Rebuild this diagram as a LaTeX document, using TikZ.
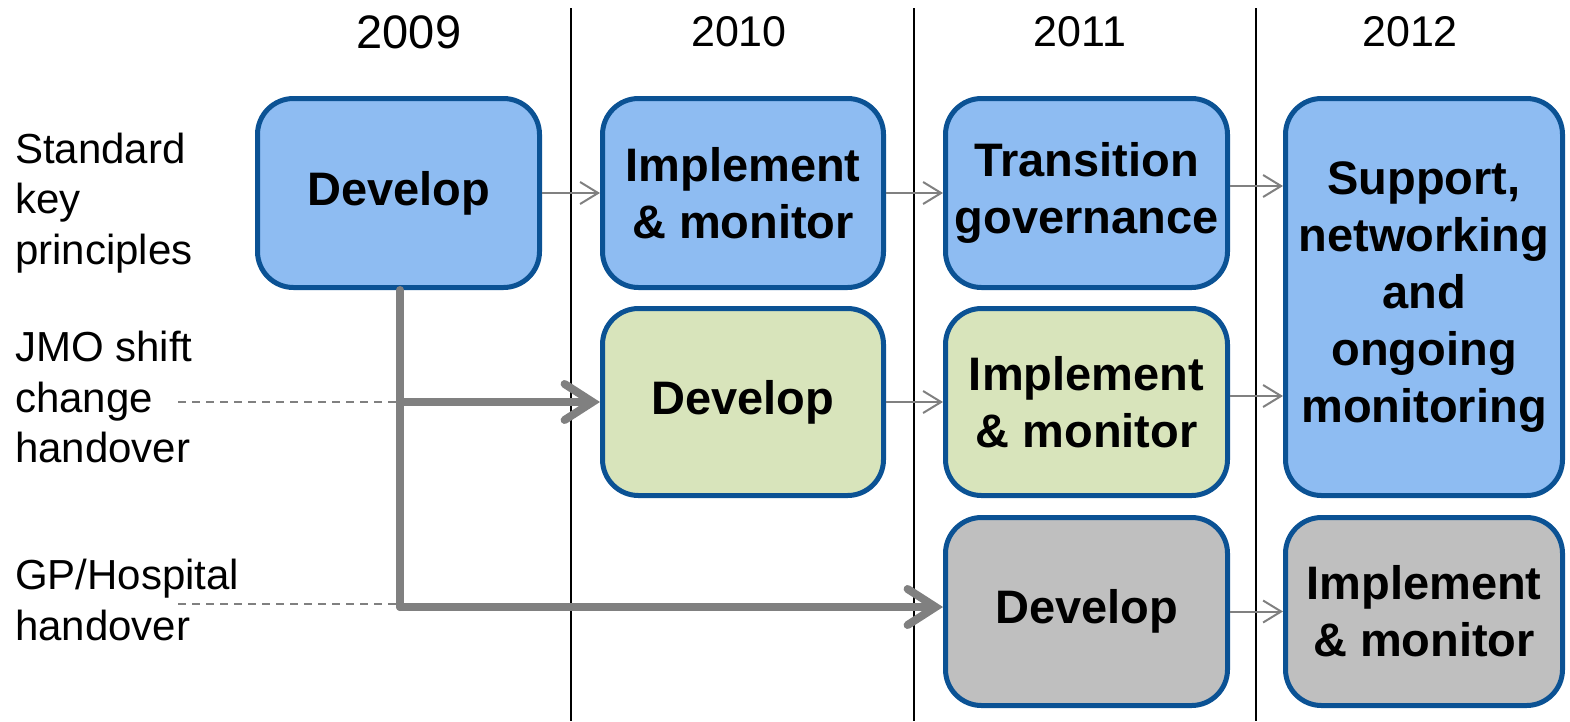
\documentclass[tikz,border=0pt]{standalone}
\usepackage{fontspec}
\setmainfont{Liberation Sans}
\usetikzlibrary{arrows.meta}
\definecolor{bfill}{HTML}{8EBCF2}
\definecolor{gfill}{HTML}{D8E4BB}
\definecolor{yfill}{HTML}{BFBFBF}
\definecolor{bdraw}{HTML}{0B5294}
\definecolor{conn}{HTML}{808080}
\tikzset{
  box/.style={draw=bdraw, line width=5pt, rounded corners=36pt, align=center, inner sep=0pt,
    font=\fontsize{47}{57}\selectfont\bfseries},
  lbl/.style={anchor=west, align=left, inner sep=0pt, font=\fontsize{42}{50.5}\selectfont},
  yr/.style={inner sep=0pt, font=\fontsize{43}{50}\selectfont},
  thinarr/.style={draw=conn, line width=2pt, -{Straight Barb[length=18pt,width=22pt]}},
  thickln/.style={draw=conn, line width=8pt, line cap=round, line join=round},
  thickarr/.style={thickln, -{Straight Barb[length=28pt,width=36pt,line cap=round]}},
  dashln/.style={draw=conn, line width=1.5pt, dash pattern=on 8pt off 6pt},
  sepln/.style={draw=black, line width=1.5pt}
}
\begin{document}
\begin{tikzpicture}[x=1pt,y=-1pt]
\useasboundingbox (0,0) rectangle (1570,721);
% separators
\coordinate (s1t) at (571,8); \coordinate (s1b) at (571,721);
\coordinate (s2t) at (914,8); \coordinate (s2b) at (914,721);
\coordinate (s3t) at (1256,8); \coordinate (s3b) at (1256,721);
\draw[sepln] (s1t) -- (s1b);
\draw[sepln] (s2t) -- (s2b);
\draw[sepln] (s3t) -- (s3b);
% years
\node[yr, font=\fontsize{47}{50}\selectfont] (y1) at (409,32) {2009};
\node[yr] (y2) at (739,32) {2010};
\node[yr] (y3) at (1080,32) {2011};
\node[yr] (y4) at (1410,32) {2012};
% labels
\node[lbl] (l1) at (15,203) {Standard\\key\\principles};
\node[lbl] (l2) at (15,397) {JMO shift\\change\\handover};
\node[lbl] (l3) at (15,600) {GP/Hospital\\handover};
% boxes
\node[box, fill=bfill, minimum width=282pt, minimum height=189pt] (A) at (398.5,193) {Develop};
\node[box, fill=bfill, minimum width=281pt, minimum height=189pt] (B) at (743,193) {Implement\\\& monitor};
\node[box, fill=bfill, minimum width=282pt, minimum height=189pt] (C) at (1086.5,193) {Transition\\governance};
\node[box, fill=bfill, minimum width=277pt, minimum height=397pt] (D) at (1424,297) {Support,\\networking\\and\\ongoing\\monitoring};
\node[box, fill=gfill, minimum width=281pt, minimum height=187pt] (E) at (743,402) {Develop};
\node[box, fill=gfill, minimum width=282pt, minimum height=187pt] (F) at (1086.5,402) {Implement\\\& monitor};
\node[box, fill=yfill, minimum width=282pt, minimum height=188pt] (G) at (1086.5,611.5) {Develop};
\node[box, fill=yfill, minimum width=277pt, minimum height=188pt] (H) at (1424,611.5) {Implement\\\& monitor};
% thin arrows
\draw[thinarr] (A.east) -- (B.west);
\draw[thinarr] (B.east) -- (C.west);
\draw[thinarr] (C.east |- 0,186) -- (D.west |- 0,186);
\draw[thinarr] (E.east) -- (F.west);
\draw[thinarr] (F.east |- 0,396) -- (D.west |- 0,396);
\draw[thinarr] (G.east) -- (H.west);
% dashed leaders
\coordinate (j) at (400,402);
\coordinate (k) at (400,607);
\coordinate (d1) at (178,402);
\coordinate (d2) at (178,604);
\coordinate (d2e) at (430,604);
\draw[dashln] (d1) -- (j);
\draw[dashln] (d2) -- (d2e);
% thick connectors
\draw[thickln] (A.south -| j) -- (k);
\draw[thickarr] (j) -- (E.west |- j);
\draw[thickarr] (k) -- (G.west |- k);
\end{tikzpicture}
\end{document}
